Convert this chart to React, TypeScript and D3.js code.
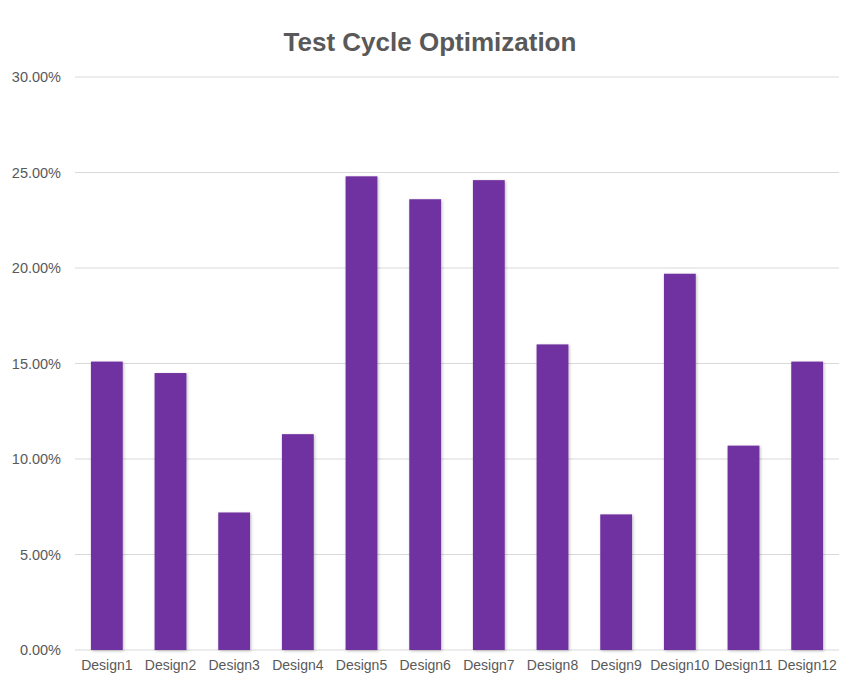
import React, { useEffect, useRef } from 'react';
import * as d3 from 'd3';

const categories = ['Design1', 'Design2', 'Design3', 'Design4', 'Design5', 'Design6', 'Design7', 'Design8', 'Design9', 'Design10', 'Design11', 'Design12'];
const values = [15.1, 14.5, 7.2, 11.3, 24.8, 23.6, 24.6, 16.0, 7.1, 19.7, 10.7, 15.1];
const yTicks = [0, 5, 10, 15, 20, 25, 30];

const WIDTH = 850;
const HEIGHT = 679;
const MARGIN = { top: 77, right: 11, bottom: 29, left: 75 };
const FONT = '"Liberation Sans", Arial, sans-serif';

const App: React.FC = () => {
  const svgRef = useRef<SVGSVGElement>(null);

  useEffect(() => {
    const svg = d3.select(svgRef.current);
    svg.selectAll('*').remove();

    const chartWidth = WIDTH - MARGIN.left - MARGIN.right;
    const chartHeight = HEIGHT - MARGIN.top - MARGIN.bottom;

    const xScale = d3.scaleBand<string>()
      .domain(categories)
      .range([0, chartWidth])
      .paddingInner(0.5)
      .paddingOuter(0.25);

    const yScale = d3.scaleLinear()
      .domain([0, 30])
      .range([chartHeight, 0]);

    // soft shadow under bars
    const defs = svg.append('defs');
    defs.append('filter')
      .attr('id', 'barShadow')
      .attr('x', '-20%').attr('y', '-5%').attr('width', '140%').attr('height', '110%')
      .append('feDropShadow')
      .attr('dx', 1).attr('dy', 1)
      .attr('stdDeviation', 1.5)
      .attr('flood-color', '#000')
      .attr('flood-opacity', 0.25);

    const g = svg.append('g').attr('transform', `translate(${MARGIN.left},${MARGIN.top})`);

    // Gridlines
    g.append('g')
      .selectAll('line')
      .data(yTicks)
      .enter().append('line')
      .attr('x1', 0)
      .attr('x2', chartWidth)
      .attr('y1', d => yScale(d))
      .attr('y2', d => yScale(d))
      .attr('stroke', '#d9d9d9')
      .attr('stroke-width', 1);

    // Y axis labels
    const yAxis = d3.axisLeft(yScale)
      .tickValues(yTicks)
      .tickSize(0)
      .tickPadding(14)
      .tickFormat(d => d3.format('.2f')(d as number) + '%');
    const yg = g.append('g').call(yAxis);
    yg.select('.domain').remove();
    yg.selectAll('text')
      .style('font-family', FONT)
      .style('font-size', '14.5px')
      .style('fill', '#595959');

    // Bars
    g.append('g')
      .selectAll('rect')
      .data(values)
      .enter().append('rect')
      .attr('x', (d, i) => xScale(categories[i])!)
      .attr('y', d => yScale(d))
      .attr('width', xScale.bandwidth())
      .attr('height', d => chartHeight - yScale(d))
      .attr('fill', '#7030a0')
      .attr('filter', 'url(#barShadow)');

    // X axis labels
    const xAxis = d3.axisBottom(xScale).tickSize(0).tickPadding(10);
    const xg = g.append('g')
      .attr('transform', `translate(0,${chartHeight})`)
      .call(xAxis);
    xg.select('.domain').remove();
    xg.selectAll('text')
      .style('font-family', FONT)
      .style('font-size', '14px')
      .style('fill', '#595959');

    // Title
    svg.append('text')
      .attr('x', 430)
      .attr('y', 51)
      .attr('text-anchor', 'middle')
      .style('font-family', FONT)
      .style('font-size', '26px')
      .style('font-weight', 'bold')
      .style('fill', '#595959')
      .text('Test Cycle Optimization');
  }, []);

  return (
    <svg
      ref={svgRef}
      width={WIDTH}
      height={HEIGHT}
      style={{ position: 'absolute', left: 0, top: 0, background: '#fff' }}
    ></svg>
  );
};

export default App;
